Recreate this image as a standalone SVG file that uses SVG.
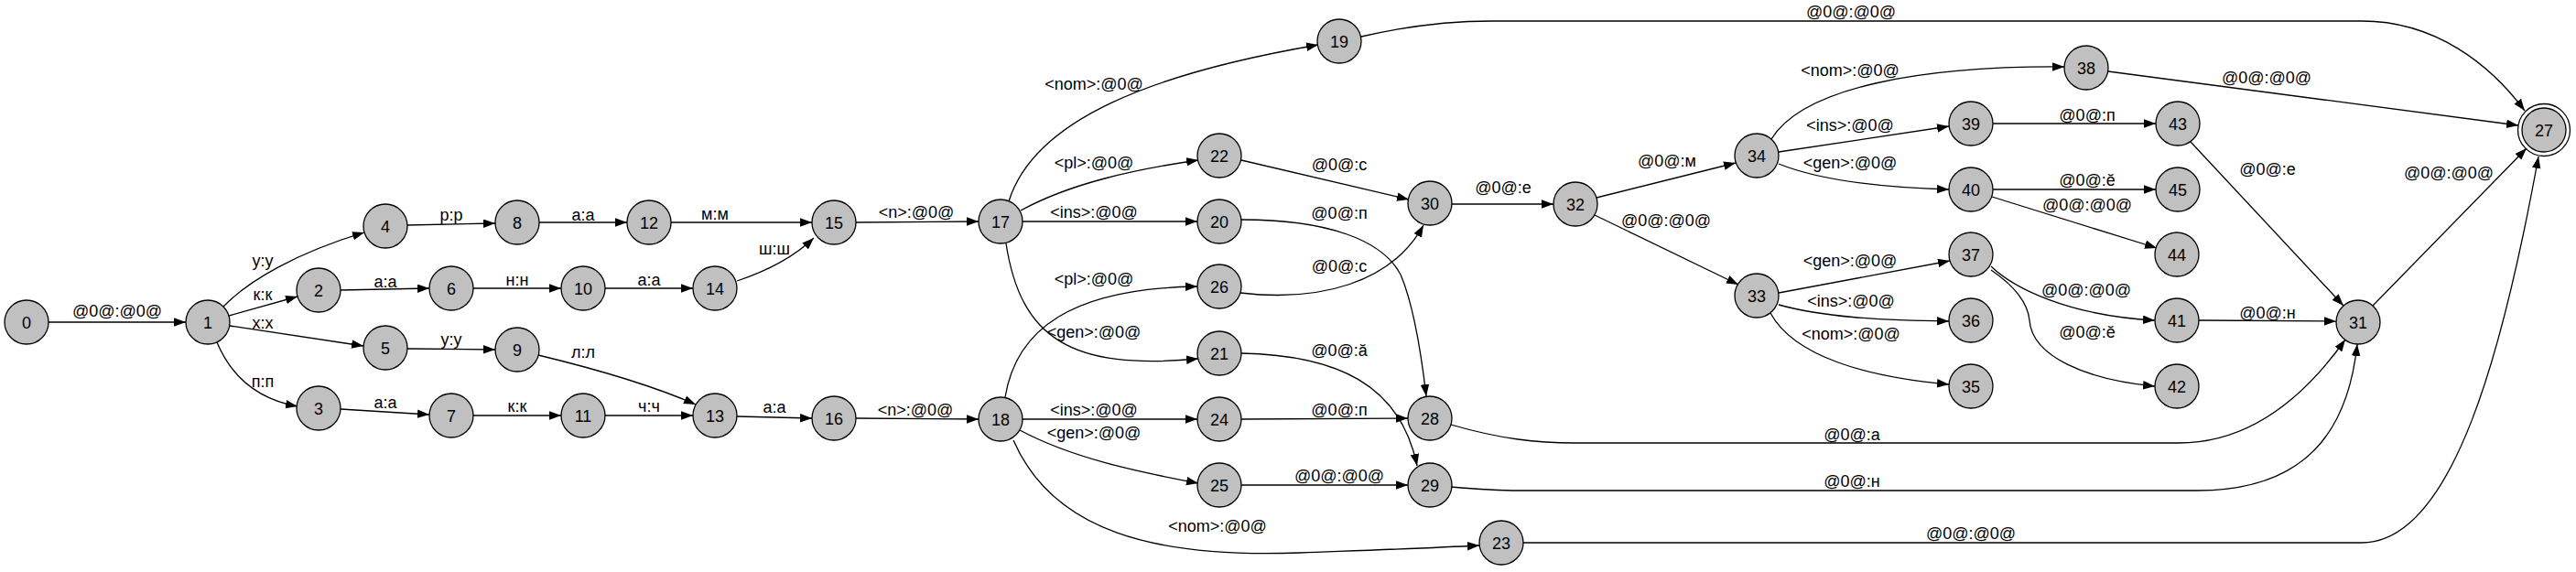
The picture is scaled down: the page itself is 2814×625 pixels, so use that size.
<svg xmlns="http://www.w3.org/2000/svg" width="2814" height="625" viewBox="0 0 2814 625">
<defs>
<marker id="arr" markerUnits="userSpaceOnUse" markerWidth="14" markerHeight="10" refX="13" refY="4.75" orient="auto">
<path d="M0,0 L13,4.75 L0,9.5 Z" fill="#000"/>
</marker>
</defs>
<style>
.node circle{fill:#c0c0c0;stroke:#000;stroke-width:1.3}
.node circle.outer{fill:none}
text{font-family:"Liberation Sans",Arial,sans-serif;font-size:18px;fill:#000;text-anchor:middle}
.edges path{fill:none;stroke:#000;stroke-width:1.3;marker-end:url(#arr)}
</style>
<rect width="2814" height="625" fill="#fff"/>
<g class="edges" id="edges">
<path d="M53,352 L203,352"/>
<path d="M244,335 C272,306 325,276 398,254"/>
<path d="M250,345 L325,324"/>
<path d="M251,356 L397,378"/>
<path d="M237,374 C250,405 275,435 325,444"/>
<path d="M372,317 L469,315"/>
<path d="M372,447 L469,453"/>
<path d="M445,246 L541,244"/>
<path d="M445,381 L541,382"/>
<path d="M517,315 L613,315"/>
<path d="M517,454 L613,454"/>
<path d="M589,243 L685,243"/>
<path d="M588,388 C650,403 710,420 760,442"/>
<path d="M661,315 L757,315"/>
<path d="M661,454 L757,454"/>
<path d="M733,243 L887,243"/>
<path d="M805,307 C835,297 865,283 889,260"/>
<path d="M805,455 L887,457"/>
<path d="M935,243 L1069,242"/>
<path d="M935,457 L1069,458"/>
<path d="M1102,220 C1130,130 1260,80 1440,49"/>
<path d="M1115,230 C1170,200 1240,185 1309,175"/>
<path d="M1117,242 L1308,242"/>
<path d="M1099,266 C1115,370 1170,405 1309,392"/>
<path d="M1098,434 C1110,360 1170,315 1308,313"/>
<path d="M1117,458 L1308,458"/>
<path d="M1114,470 C1170,500 1240,515 1309,528"/>
<path d="M1107,481 C1150,580 1260,610 1420,604 C1500,601 1560,599 1616,596"/>
<path d="M1356,175 L1539,218"/>
<path d="M1356,240 C1450,240 1510,262 1530,300 C1545,335 1553,390 1558,433"/>
<path d="M1355,320 C1440,330 1520,310 1555,246"/>
<path d="M1356,386 C1460,388 1530,420 1548,509"/>
<path d="M1356,458 L1538,457"/>
<path d="M1356,530 L1538,530"/>
<path d="M1585,464 C1640,480 1680,484 1720,484 L2380,484 C2460,484 2520,430 2562,371"/>
<path d="M1585,532 C1620,535 1640,536 1660,536 L2400,536 C2520,536 2565,470 2575,376"/>
<path d="M1586,223 L1697,223"/>
<path d="M1744,216 L1896,178"/>
<path d="M1742,235 L1899,311"/>
<path d="M1487,40 C1530,30 1580,23 1630,23 L2580,23 C2660,23 2720,70 2758,121"/>
<path d="M1664,593 L2580,593 C2680,593 2735,380 2773,171"/>
<path d="M1935,152 C1970,95 2100,72 2255,73"/>
<path d="M1943,166 L2129,138"/>
<path d="M1943,179 C1990,198 2060,205 2129,207"/>
<path d="M1943,320 L2130,285"/>
<path d="M1943,333 C1990,346 2050,350 2129,351"/>
<path d="M1934,342 C1960,390 2040,412 2129,420"/>
<path d="M2303,78 L2751,137"/>
<path d="M2177,135 L2355,135"/>
<path d="M2177,207 L2355,207"/>
<path d="M2176,215 L2356,271"/>
<path d="M2175,291 C2200,315 2260,345 2354,350"/>
<path d="M2175,295 C2200,312 2215,330 2217,350 C2220,390 2280,415 2354,422"/>
<path d="M2393,155 L2560,334"/>
<path d="M2402,350 L2552,351"/>
<path d="M2592,334 L2760,162"/>
</g>
<g id="edge-labels">
<text x="128" y="346">@0@:@0@</text>
<text x="287" y="291">у:у</text>
<text x="287" y="328">к:к</text>
<text x="287" y="359">х:х</text>
<text x="287" y="423">п:п</text>
<text x="421" y="314">а:а</text>
<text x="421" y="446">а:а</text>
<text x="493" y="241">р:р</text>
<text x="493" y="377">у:у</text>
<text x="565" y="312">н:н</text>
<text x="565" y="450">к:к</text>
<text x="637" y="241">а:а</text>
<text x="637" y="391">л:л</text>
<text x="709" y="312">а:а</text>
<text x="709" y="450">ч:ч</text>
<text x="781" y="240">м:м</text>
<text x="846" y="278">ш:ш</text>
<text x="846" y="451">а:а</text>
<text x="1001" y="238">&lt;n&gt;:@0@</text>
<text x="1000" y="454">&lt;n&gt;:@0@</text>
<text x="1195" y="98">&lt;nom&gt;:@0@</text>
<text x="1195" y="184">&lt;pl&gt;:@0@</text>
<text x="1195" y="238">&lt;ins&gt;:@0@</text>
<text x="1195" y="369">&lt;gen&gt;:@0@</text>
<text x="1195" y="311">&lt;pl&gt;:@0@</text>
<text x="1195" y="454">&lt;ins&gt;:@0@</text>
<text x="1195" y="479">&lt;gen&gt;:@0@</text>
<text x="1330" y="581">&lt;nom&gt;:@0@</text>
<text x="1463" y="186">@0@:с</text>
<text x="1463" y="239">@0@:п</text>
<text x="1463" y="297">@0@:с</text>
<text x="1463" y="389">@0@:ă</text>
<text x="1463" y="454">@0@:п</text>
<text x="1463" y="526">@0@:@0@</text>
<text x="1642" y="211">@0@:е</text>
<text x="1821" y="182">@0@:м</text>
<text x="1820" y="247">@0@:@0@</text>
<text x="2022" y="19">@0@:@0@</text>
<text x="2021" y="83">&lt;nom&gt;:@0@</text>
<text x="2021" y="143">&lt;ins&gt;:@0@</text>
<text x="2021" y="184">&lt;gen&gt;:@0@</text>
<text x="2021" y="291">&lt;gen&gt;:@0@</text>
<text x="2022" y="335">&lt;ins&gt;:@0@</text>
<text x="2022" y="371">&lt;nom&gt;:@0@</text>
<text x="2023" y="481">@0@:а</text>
<text x="2023" y="532">@0@:н</text>
<text x="2153" y="589">@0@:@0@</text>
<text x="2476" y="91">@0@:@0@</text>
<text x="2280" y="132">@0@:п</text>
<text x="2477" y="191">@0@:е</text>
<text x="2675" y="195">@0@:@0@</text>
<text x="2280" y="203">@0@:ĕ</text>
<text x="2280" y="230">@0@:@0@</text>
<text x="2279" y="323">@0@:@0@</text>
<text x="2477" y="348">@0@:н</text>
<text x="2280" y="369">@0@:ĕ</text>
</g>
<g id="n0" class="node"><circle cx="29" cy="352" r="24"/><text x="29" y="358.5">0</text></g>
<g id="n1" class="node"><circle cx="227" cy="352" r="24"/><text x="227" y="358.5">1</text></g>
<g id="n2" class="node"><circle cx="348" cy="317" r="24"/><text x="348" y="323.5">2</text></g>
<g id="n3" class="node"><circle cx="348" cy="446" r="24"/><text x="348" y="452.5">3</text></g>
<g id="n4" class="node"><circle cx="421" cy="247" r="24"/><text x="421" y="253.5">4</text></g>
<g id="n5" class="node"><circle cx="421" cy="380" r="24"/><text x="421" y="386.5">5</text></g>
<g id="n6" class="node"><circle cx="493" cy="315" r="24"/><text x="493" y="321.5">6</text></g>
<g id="n7" class="node"><circle cx="493" cy="454" r="24"/><text x="493" y="460.5">7</text></g>
<g id="n8" class="node"><circle cx="565" cy="243" r="24"/><text x="565" y="249.5">8</text></g>
<g id="n9" class="node"><circle cx="565" cy="382" r="24"/><text x="565" y="388.5">9</text></g>
<g id="n10" class="node"><circle cx="637" cy="315" r="24"/><text x="637" y="321.5">10</text></g>
<g id="n11" class="node"><circle cx="637" cy="454" r="24"/><text x="637" y="460.5">11</text></g>
<g id="n12" class="node"><circle cx="709" cy="243" r="24"/><text x="709" y="249.5">12</text></g>
<g id="n13" class="node"><circle cx="781" cy="454" r="24"/><text x="781" y="460.5">13</text></g>
<g id="n14" class="node"><circle cx="781" cy="315" r="24"/><text x="781" y="321.5">14</text></g>
<g id="n15" class="node"><circle cx="911" cy="243" r="24"/><text x="911" y="249.5">15</text></g>
<g id="n16" class="node"><circle cx="911" cy="457" r="24"/><text x="911" y="463.5">16</text></g>
<g id="n17" class="node"><circle cx="1093" cy="242" r="24"/><text x="1093" y="248.5">17</text></g>
<g id="n18" class="node"><circle cx="1093" cy="458" r="24"/><text x="1093" y="464.5">18</text></g>
<g id="n19" class="node"><circle cx="1463" cy="45" r="24"/><text x="1463" y="51.5">19</text></g>
<g id="n20" class="node"><circle cx="1332" cy="242" r="24"/><text x="1332" y="248.5">20</text></g>
<g id="n21" class="node"><circle cx="1332" cy="386" r="24"/><text x="1332" y="392.5">21</text></g>
<g id="n22" class="node"><circle cx="1332" cy="170" r="24"/><text x="1332" y="176.5">22</text></g>
<g id="n23" class="node"><circle cx="1640" cy="593" r="24"/><text x="1640" y="599.5">23</text></g>
<g id="n24" class="node"><circle cx="1332" cy="458" r="24"/><text x="1332" y="464.5">24</text></g>
<g id="n25" class="node"><circle cx="1332" cy="530" r="24"/><text x="1332" y="536.5">25</text></g>
<g id="n26" class="node"><circle cx="1332" cy="313" r="24"/><text x="1332" y="319.5">26</text></g>
<g id="n27" class="node"><circle class="outer" cx="2779" cy="142" r="28.5"/><circle cx="2779" cy="142" r="24"/><text x="2779" y="148.5">27</text></g>
<g id="n28" class="node"><circle cx="1562" cy="457" r="24"/><text x="1562" y="463.5">28</text></g>
<g id="n29" class="node"><circle cx="1562" cy="530" r="24"/><text x="1562" y="536.5">29</text></g>
<g id="n30" class="node"><circle cx="1562" cy="222" r="24"/><text x="1562" y="228.5">30</text></g>
<g id="n31" class="node"><circle cx="2576" cy="352" r="24"/><text x="2576" y="358.5">31</text></g>
<g id="n32" class="node"><circle cx="1721" cy="223" r="24"/><text x="1721" y="229.5">32</text></g>
<g id="n33" class="node"><circle cx="1919" cy="323" r="24"/><text x="1919" y="329.5">33</text></g>
<g id="n34" class="node"><circle cx="1919" cy="170" r="24"/><text x="1919" y="176.5">34</text></g>
<g id="n35" class="node"><circle cx="2153" cy="422" r="24"/><text x="2153" y="428.5">35</text></g>
<g id="n36" class="node"><circle cx="2153" cy="350" r="24"/><text x="2153" y="356.5">36</text></g>
<g id="n37" class="node"><circle cx="2153" cy="278" r="24"/><text x="2153" y="284.5">37</text></g>
<g id="n38" class="node"><circle cx="2279" cy="74" r="24"/><text x="2279" y="80.5">38</text></g>
<g id="n39" class="node"><circle cx="2153" cy="135" r="24"/><text x="2153" y="141.5">39</text></g>
<g id="n40" class="node"><circle cx="2153" cy="207" r="24"/><text x="2153" y="213.5">40</text></g>
<g id="n41" class="node"><circle cx="2378" cy="350" r="24"/><text x="2378" y="356.5">41</text></g>
<g id="n42" class="node"><circle cx="2378" cy="422" r="24"/><text x="2378" y="428.5">42</text></g>
<g id="n43" class="node"><circle cx="2379" cy="135" r="24"/><text x="2379" y="141.5">43</text></g>
<g id="n44" class="node"><circle cx="2378" cy="278" r="24"/><text x="2378" y="284.5">44</text></g>
<g id="n45" class="node"><circle cx="2379" cy="207" r="24"/><text x="2379" y="213.5">45</text></g>
</svg>
